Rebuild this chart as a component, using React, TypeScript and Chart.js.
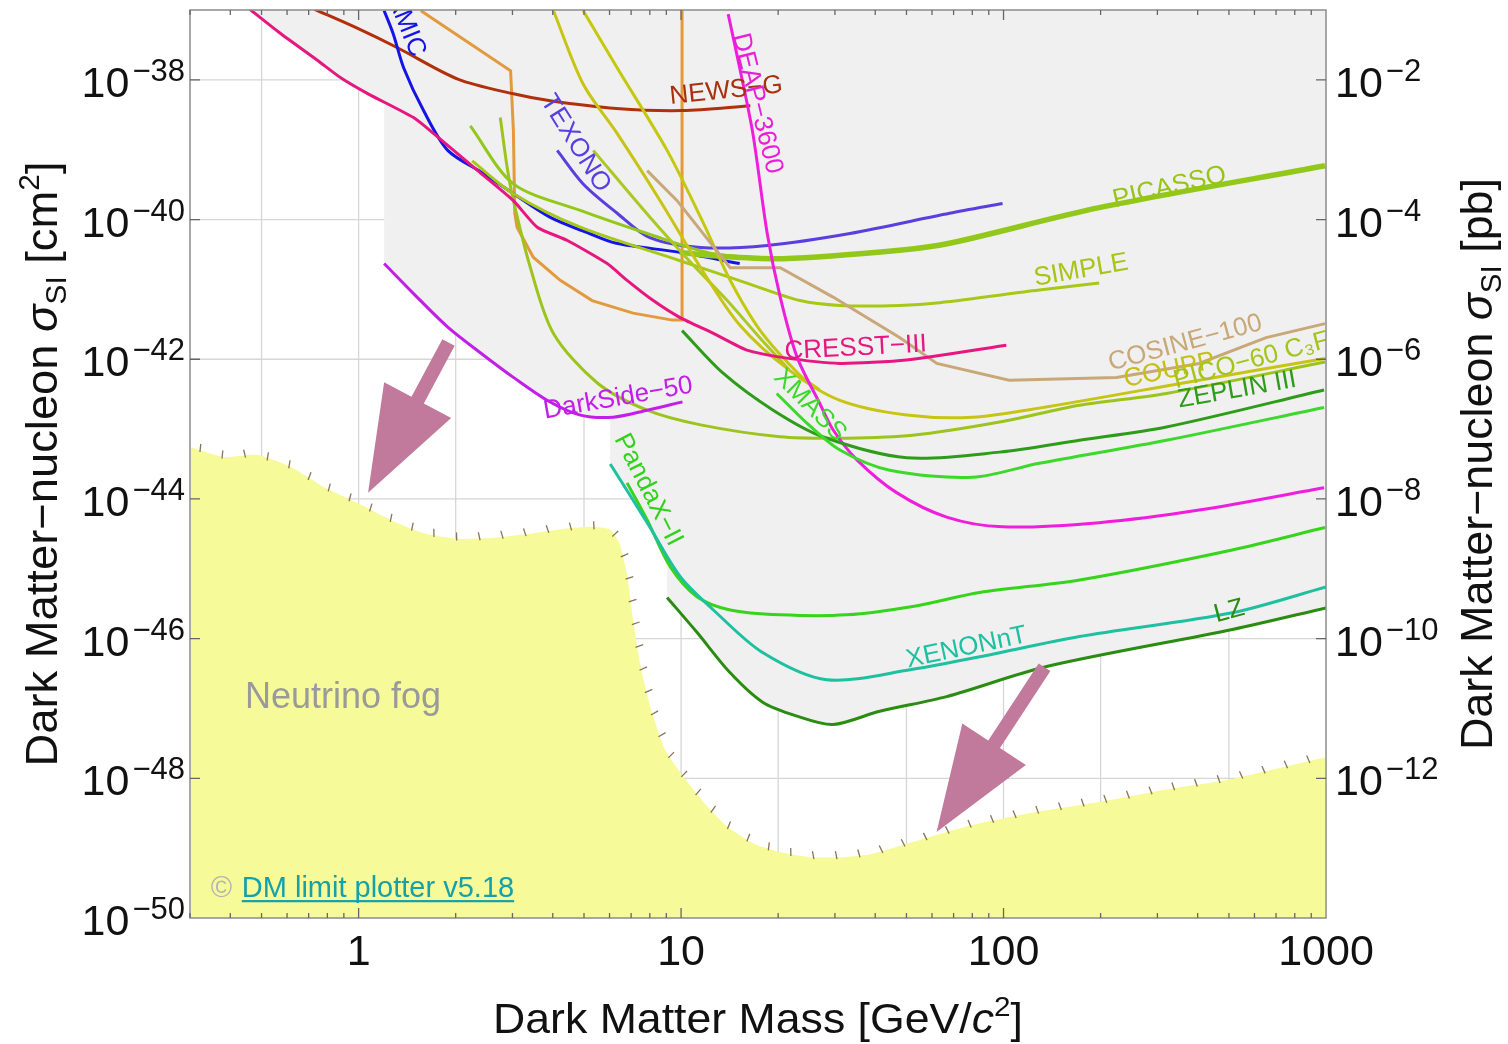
import React, { useEffect, useRef } from "react";
import { Chart, registerables } from "chart.js";

Chart.register(...registerables);

// Each point: [dark-matter mass in GeV, log10 of sigma_SI in cm^2]
type Pt = [number, number];

const cresst3: Pt[] = [[0.46,-36.99],[0.57,-37.33],[0.75,-37.73],[0.88,-37.97],[1.07,-38.2],[1.48,-38.54],[1.71,-38.77],[2.34,-39.3],[3.02,-39.73],[3.58,-40.11],[4.44,-40.3],[5.9,-40.63],[6.8,-40.87],[8.2,-41.16],[9.9,-41.4],[12.6,-41.63],[16,-41.87],[20.3,-41.97],[31,-42.06],[50,-42.01],[102,-41.8]];
const damic: Pt[] = [[1.2,-37.01],[1.28,-37.34],[1.38,-37.83],[1.59,-38.44],[1.89,-39.01],[2.44,-39.34],[3.02,-39.63],[3.93,-39.97],[5.2,-40.2],[6.3,-40.34],[9.9,-40.47],[15.2,-40.63]];
const newsG: Pt[] = [[0.73,-36.99],[0.99,-37.26],[1.32,-37.54],[2.03,-37.99],[3.02,-38.2],[3.93,-38.3],[6.3,-38.41],[10.1,-38.44],[16.4,-38.37]];
const orangeLimit: Pt[] = [[1.56,-37.01],[2.96,-37.87],[3.02,-38.73],[3.05,-39.91],[3.1,-40.11],[3.48,-40.54],[4.22,-40.87],[5.3,-41.16],[7.1,-41.34],[9.4,-41.44],[10.07,-41.44],[10.07,-37.0]];
const deap3600: Pt[] = [[14,-37.06],[15.2,-37.83],[16.7,-38.77],[18.5,-40.2],[20.3,-41.11],[22.9,-41.97],[26.9,-42.63],[29.6,-43.01],[35.1,-43.44],[46.6,-43.91],[66.6,-44.26],[99.3,-44.4],[198,-44.34],[404,-44.16],[986,-43.84]];
const texono: Pt[] = [[4.13,-39.01],[4.97,-39.49],[6.34,-39.91],[8.0,-40.26],[11.5,-40.4],[18.5,-40.37],[33.4,-40.2],[68,-39.91],[99.3,-39.77]];
const picassoLow: Pt[] = [[2.22,-38.66],[3.02,-39.49],[4.87,-39.87],[7.85,-40.2],[12.6,-40.49],[20.7,-40.56]];
const picasso: Pt[] = [[9.9,-40.47],[12.6,-40.52],[20.7,-40.56],[47.6,-40.44],[68,-40.34],[198,-39.83],[993,-39.23]];
const simple: Pt[] = [[2.25,-39.16],[3.02,-39.63],[4.87,-40.11],[9.93,-40.59],[16,-40.91],[23.4,-41.16],[31.1,-41.23],[47.6,-41.23],[63.4,-41.19],[129,-41.01],[198,-40.91]];
const pico60: Pt[] = [[2.75,-38.54],[2.89,-39.26],[3.02,-39.73],[3.41,-40.69],[4.02,-41.63],[5.5,-42.34],[7.85,-42.73],[11.5,-42.94],[20.3,-43.11],[32.6,-43.13],[52.3,-43.09],[97.2,-42.9],[172,-42.66],[320,-42.49],[993,-42.04]];
const coupp: Pt[] = [[4.02,-37.01],[4.97,-38.06],[6.34,-38.77],[8.61,-39.73],[11.5,-40.69],[15.2,-41.51],[21.7,-42.16],[31.1,-42.59],[50.1,-42.8],[80.2,-42.83],[129,-42.7],[404,-42.3],[993,-41.99]];
const yellowB: Pt[] = [[4.97,-37.01],[6.34,-37.83],[9.05,-39.01],[11.5,-39.97],[14.2,-40.87],[17.6,-41.59],[23.4,-42.23],[26.9,-42.44]];
const yellowGreen: Pt[] = [[5.34,-39.01],[8.02,-39.97],[10.7,-40.61],[13.9,-41.16],[17.6,-41.7],[21.7,-42.16]];
const cosine100: Pt[] = [[7.85,-39.3],[9.72,-39.73],[14.2,-40.69],[20.3,-40.69],[29.6,-41.11],[47.6,-41.69],[62.1,-42.06],[104,-42.3],[224,-42.26],[404,-42.06],[652,-41.69],[993,-41.49]];
const darkSide50: Pt[] = [[1.2,-40.63],[1.48,-41.06],[1.89,-41.54],[2.39,-41.91],[3.02,-42.26],[3.85,-42.59],[4.87,-42.8],[6.16,-42.83],[7.85,-42.73],[10.1,-42.61]];
const zeplin3: Pt[] = [[10.07,-41.59],[13.5,-42.2],[19.3,-42.73],[27.5,-43.11],[50.1,-43.41],[97.2,-43.33],[172,-43.16],[320,-42.97],[986,-42.44]];
const xmass: Pt[] = [[19.8,-42.49],[24.5,-42.91],[31.1,-43.3],[44.4,-43.59],[80.2,-43.69],[129,-43.49],[320,-43.16],[986,-42.69]];
const pandax2: Pt[] = [[6.8,-43.77],[7.85,-44.3],[9.25,-44.97],[11.2,-45.4],[14.2,-45.59],[20.3,-45.66],[32.6,-45.66],[52.3,-45.54],[84.3,-45.34],[172,-45.16],[512,-44.73],[993,-44.41]];
const xenonnt: Pt[] = [[6.03,-43.5],[7.85,-44.34],[9.93,-45.11],[12.6,-45.59],[17.9,-46.2],[28.3,-46.59],[52.3,-46.44],[84.3,-46.26],[172,-45.97],[512,-45.63],[1000,-45.26]];
const lz: Pt[] = [[9.05,-45.41],[11.2,-45.91],[14.2,-46.49],[17.9,-46.91],[22.9,-47.11],[29.6,-47.23],[41.3,-47.04],[66.6,-46.83],[136,-46.4],[512,-45.87],[1000,-45.56]];

// lower edge of the combined excluded (grey) region
const excludedEdge: Pt[] = [[0.46,-36.99],[0.57,-37.33],[0.75,-37.73],[0.88,-37.97],[1.07,-38.2],[1.2,-38.33],[1.2,-40.63],[1.48,-41.06],[1.89,-41.54],[2.39,-41.91],[3.02,-42.26],[3.85,-42.59],[4.87,-42.8],[6.03,-42.83],[6.03,-43.5],[7.85,-44.34],[9.05,-44.95],[9.05,-45.41],[11.2,-45.91],[14.2,-46.49],[17.9,-46.91],[22.9,-47.11],[29.6,-47.23],[41.3,-47.04],[66.6,-46.83],[136,-46.4],[512,-45.87],[1000,-45.56]];

// upper edge of the neutrino fog
const neutrinoFog: Pt[] = [[0.302,-43.26],[0.382,-43.4],[0.486,-43.37],[0.615,-43.54],[0.779,-43.83],[0.993,-44.06],[1.256,-44.3],[1.589,-44.49],[2.03,-44.57],[2.56,-44.56],[3.24,-44.51],[4.13,-44.44],[5.23,-44.4],[6.03,-44.44],[6.47,-44.66],[6.8,-45.09],[7.1,-45.73],[7.47,-46.37],[8.02,-46.97],[8.92,-47.59],[10.3,-48.01],[11.9,-48.37],[13.9,-48.69],[16.9,-48.94],[20.4,-49.06],[25.1,-49.13],[31.1,-49.13],[38.5,-49.09],[47.6,-48.97],[76.7,-48.69],[123,-48.49],[198,-48.34],[320,-48.16],[512,-48.01],[993,-47.7]];

// axes
const X_MIN = 0.3, X_MAX = 1000;
const Y_MIN_EXP = -50, Y_MAX_EXP = -37;
const PB_MIN_EXP = -14, PB_MAX_EXP = -1;
const X_GRID = [0.5, 1, 2, 5, 10, 20, 50, 100, 200, 500];
const X_MAJOR = [1, 10, 100];
const X_MANTISSAS = [1, 2, 3, 4, 5, 6, 7, 8, 9];
const X_DECADES = [0.1, 1, 10, 100];
const X_TICK_LABELS = [1, 10, 100, 1000];
const Y_GRID_EXP = [-38, -40, -42, -44, -46, -48];
const Y_LEFT_LABEL_EXP = [-38, -40, -42, -44, -46, -48, -50];
const Y_RIGHT_LABEL_EXP = [-2, -4, -6, -8, -10, -12];

const FONT = '"Liberation Sans", Arial, Helvetica, sans-serif';

type Curve = { name: string; pts: Pt[]; color: string; width: number; tension: number };

const CURVES: Curve[] = [
  { name: "LZ", pts: lz, color: "#2a8c10", width: 3, tension: 0.3 },
  { name: "XENONnT", pts: xenonnt, color: "#1ec0a0", width: 3, tension: 0.3 },
  { name: "PandaX-II", pts: pandax2, color: "#36d41a", width: 3, tension: 0.3 },
  { name: "XMASS", pts: xmass, color: "#3cd82a", width: 3, tension: 0.3 },
  { name: "ZEPLIN III", pts: zeplin3, color: "#2e9c1a", width: 3, tension: 0.3 },
  { name: "DEAP-3600", pts: deap3600, color: "#ee1edc", width: 3, tension: 0.3 },
  { name: "DarkSide-50", pts: darkSide50, color: "#c21ee8", width: 3, tension: 0.3 },
  { name: "CRESST-III", pts: cresst3, color: "#e6177f", width: 3, tension: 0.2 },
  { name: "COSINE-100", pts: cosine100, color: "#c8a878", width: 3, tension: 0 },
  { name: "COUPP", pts: coupp, color: "#c8c414", width: 3, tension: 0.3 },
  { name: "PICO-60", pts: pico60, color: "#9cc41c", width: 3, tension: 0.3 },
  { name: "yellowB", pts: yellowB, color: "#c4c80e", width: 3, tension: 0.3 },
  { name: "yellowGreen", pts: yellowGreen, color: "#acc824", width: 3, tension: 0.3 },
  { name: "SIMPLE", pts: simple, color: "#a8c818", width: 3, tension: 0.3 },
  { name: "PICASSO", pts: picasso, color: "#92c81a", width: 5.5, tension: 0.3 },
  { name: "PICASSO low", pts: picassoLow, color: "#92c81a", width: 3, tension: 0.3 },
  { name: "TEXONO", pts: texono, color: "#5a3ee0", width: 3, tension: 0.3 },
  { name: "DAMIC", pts: damic, color: "#1414e6", width: 3, tension: 0.3 },
  { name: "NEWS-G", pts: newsG, color: "#b0300c", width: 3, tension: 0.3 },
  { name: "orange", pts: orangeLimit, color: "#e39a3c", width: 3, tension: 0 },
];

type Lbl = { text: string; at: Pt; angle: number; color: string };
const CURVE_LABELS: Lbl[] = [
  { text: "DAMIC", at: [1.37, -37.1], angle: 68, color: "#1414e6" },
  { text: "TEXONO", at: [4.7, -38.91], angle: 58, color: "#5a3ee0" },
  { text: "NEWS\u2212G", at: [13.8, -38.16], angle: -6, color: "#a8300e" },
  { text: "DEAP\u22123600", at: [17.2, -38.34], angle: 76, color: "#e81ed8" },
  { text: "PICASSO", at: [327, -39.54], angle: -13, color: "#98c418" },
  { text: "SIMPLE", at: [174, -40.73], angle: -10, color: "#a8c418" },
  { text: "CRESST\u2212III", at: [34.8, -41.84], angle: -3, color: "#e6177f" },
  { text: "COSINE\u2212100", at: [366, -41.77], angle: -15, color: "#c8a878" },
  { text: "COUPP", at: [327, -42.16], angle: -12, color: "#c4c014" },
  { text: "PICO\u221260 C\u2083F\u2088", at: [610, -42.0], angle: -15, color: "#a4c41c" },
  { text: "ZEPLIN III", at: [530, -42.44], angle: -10, color: "#2e9c1a" },
  { text: "XMASS", at: [25.1, -42.66], angle: 45, color: "#3cd82a" },
  { text: "DarkSide\u221250", at: [6.38, -42.56], angle: -10, color: "#c21ee8" },
  { text: "PandaX\u2212II", at: [7.91, -43.87], angle: 63, color: "#32d21c" },
  { text: "XENONnT", at: [76.8, -46.13], angle: -12, color: "#1ec0a0" },
  { text: "LZ", at: [501, -45.61], angle: -15, color: "#2a8c10" },
];

const ARROWS: { from: Pt; to: Pt }[] = [
  { from: [1.9, -41.76], to: [1.07, -43.91] },
  { from: [134, -46.41], to: [62, -48.77] },
];

const FOG_TEXT_AT: Pt = [0.444, -46.99];
const CREDIT_AT: Pt = [0.348, -49.7];

const toXY = (pts: Pt[]) => pts.map(([m, l]) => ({ x: m, y: Math.pow(10, l) }));

type Seg = { t: string; s: number; i?: boolean; dy?: number };
function segFont(s: Seg) {
  return `${s.i ? "italic " : ""}${s.s}px ${FONT}`;
}
function drawRich(ctx: CanvasRenderingContext2D, segs: Seg[], cx: number, cy: number, angle: number, target: number) {
  let total = 0;
  const ws = segs.map((s) => {
    ctx.font = segFont(s);
    const w = ctx.measureText(s.t).width;
    total += w;
    return w;
  });
  const sx = target / total;
  ctx.save();
  ctx.translate(cx, cy);
  ctx.rotate(angle);
  ctx.scale(sx, 1);
  ctx.textAlign = "left";
  ctx.textBaseline = "alphabetic";
  let x = -total / 2;
  segs.forEach((s, i) => {
    ctx.font = segFont(s);
    ctx.fillText(s.t, x, s.dy || 0);
    x += ws[i];
  });
  ctx.restore();
}

function drawPow(ctx: CanvasRenderingContext2D, x: number, y: number, exp: number, align: "left" | "right") {
  const base = "10";
  const sup = (exp < 0 ? "\u2212" : "") + Math.abs(exp);
  ctx.font = `43px ${FONT}`;
  const wb = ctx.measureText(base).width;
  ctx.font = `31px ${FONT}`;
  const wsup = ctx.measureText(sup).width;
  const total = wb + 3 + wsup;
  const x0 = align === "right" ? x - total : x;
  ctx.textAlign = "left";
  ctx.textBaseline = "alphabetic";
  ctx.font = `43px ${FONT}`;
  ctx.fillText(base, x0, y + 17);
  ctx.font = `31px ${FONT}`;
  ctx.fillText(sup, x0 + wb + 3, y + 1);
}

const decorPlugin = {
  id: "decor",
  beforeDatasetsDraw(chart: any) {
    const { ctx, chartArea: a, scales } = chart;
    const xs = scales.x, ys = scales.y;
    ctx.save();
    ctx.strokeStyle = "#d6d6d6";
    ctx.lineWidth = 1.3;
    X_GRID.forEach((v) => {
      const px = xs.getPixelForValue(v);
      ctx.beginPath();
      ctx.moveTo(px, a.top);
      ctx.lineTo(px, a.bottom);
      ctx.stroke();
    });
    Y_GRID_EXP.forEach((e) => {
      const py = ys.getPixelForValue(Math.pow(10, e));
      ctx.beginPath();
      ctx.moveTo(a.left, py);
      ctx.lineTo(a.right, py);
      ctx.stroke();
    });
    ctx.restore();
  },
  afterDatasetsDraw(chart: any) {
    const { ctx, chartArea: a, scales } = chart;
    const xs = scales.x, ys = scales.y, y2 = scales.y2;
    const px = (m: number) => xs.getPixelForValue(m);
    const py = (l: number) => ys.getPixelForValue(Math.pow(10, l));

    ctx.save();
    ctx.beginPath();
    ctx.rect(a.left, a.top, a.right - a.left, a.bottom - a.top);
    ctx.clip();

    // hatch marks along the neutrino fog boundary
    const fogMeta = chart.getDatasetMeta(chart.data.datasets.findIndex((d: any) => d.label === "fog"));
    const fp = fogMeta.data.map((p: any) => ({ x: p.x, y: p.y }));
    ctx.strokeStyle = "#8a7456";
    ctx.lineWidth = 1.3;
    const step = 23;
    let next = 10;
    let acc = 0;
    for (let i = 0; i < fp.length - 1; i++) {
      const dx = fp[i + 1].x - fp[i].x, dy = fp[i + 1].y - fp[i].y;
      const len = Math.hypot(dx, dy);
      if (len === 0) continue;
      const tx = dx / len, ty = dy / len;
      const nx = ty, ny = -tx;
      while (next <= acc + len) {
        const d = next - acc;
        const cx = fp[i].x + tx * d, cy = fp[i].y + ty * d;
        ctx.beginPath();
        ctx.moveTo(cx - nx * 2, cy - ny * 2);
        ctx.lineTo(cx + nx * 6 - tx * 1.5, cy + ny * 6 - ty * 1.5);
        ctx.stroke();
        next += step;
      }
      acc += len;
    }

    // curve labels
    ctx.textAlign = "center";
    ctx.textBaseline = "middle";
    ctx.font = `26px ${FONT}`;
    CURVE_LABELS.forEach((l) => {
      ctx.save();
      ctx.translate(px(l.at[0]), py(l.at[1]));
      ctx.rotate((l.angle * Math.PI) / 180);
      ctx.fillStyle = l.color;
      ctx.fillText(l.text, 0, 0);
      ctx.restore();
    });

    // arrows
    ctx.fillStyle = "#c27a9c";
    ARROWS.forEach((ar) => {
      const x0 = px(ar.from[0]), y0 = py(ar.from[1]);
      const x1 = px(ar.to[0]), y1 = py(ar.to[1]);
      const dx = x1 - x0, dy = y1 - y0;
      const len = Math.hypot(dx, dy);
      const ux = dx / len, uy = dy / len;
      const nx = -uy, ny = ux;
      const hl = 105, hw = 38, sw = 7;
      const bx = x1 - ux * hl, by = y1 - uy * hl;
      ctx.beginPath();
      ctx.moveTo(x0 + nx * sw, y0 + ny * sw);
      ctx.lineTo(bx + nx * sw, by + ny * sw);
      ctx.lineTo(bx + nx * hw, by + ny * hw);
      ctx.lineTo(x1, y1);
      ctx.lineTo(bx - nx * hw, by - ny * hw);
      ctx.lineTo(bx - nx * sw, by - ny * sw);
      ctx.lineTo(x0 - nx * sw, y0 - ny * sw);
      ctx.closePath();
      ctx.fill();
    });

    // Neutrino fog text
    ctx.textAlign = "left";
    ctx.textBaseline = "alphabetic";
    ctx.fillStyle = "#9a9a9a";
    ctx.font = `36px ${FONT}`;
    ctx.fillText("Neutrino fog", px(FOG_TEXT_AT[0]), py(FOG_TEXT_AT[1]));

    // credit
    const cx0 = px(CREDIT_AT[0]), cy0 = py(CREDIT_AT[1]);
    ctx.font = `29px ${FONT}`;
    ctx.fillStyle = "#b4b4b4";
    ctx.fillText("\u00a9", cx0, cy0);
    const cw = 31;
    ctx.fillStyle = "#17a0a8";
    const credit = "DM limit plotter v5.18";
    ctx.fillText(credit, cx0 + cw, cy0);
    const tw = ctx.measureText(credit).width;
    ctx.fillRect(cx0 + cw, cy0 + 3, tw, 2.2);
    ctx.restore();

    // frame
    ctx.save();
    ctx.strokeStyle = "#8c8c8c";
    ctx.lineWidth = 1.5;
    ctx.strokeRect(a.left, a.top, a.right - a.left, a.bottom - a.top);

    // x ticks (bottom and top)
    ctx.strokeStyle = "#666";
    ctx.lineWidth = 1.3;
    X_DECADES.forEach((d) => {
      X_MANTISSAS.forEach((m) => {
        const v = m * d;
        if (v < X_MIN * 0.999 || v > X_MAX * 1.001) return;
        const x = px(v);
        const major = X_MAJOR.some((mv) => Math.abs(mv - v) < 1e-9);
        const L = major ? 10 : 5;
        ctx.beginPath();
        ctx.moveTo(x, a.bottom);
        ctx.lineTo(x, a.bottom - L);
        ctx.moveTo(x, a.top);
        ctx.lineTo(x, a.top + L);
        ctx.stroke();
      });
    });
    Y_GRID_EXP.forEach((e) => {
      const y = py(e);
      ctx.beginPath();
      ctx.moveTo(a.left, y);
      ctx.lineTo(a.left + 10, y);
      ctx.moveTo(a.right, y);
      ctx.lineTo(a.right - 10, y);
      ctx.stroke();
    });

    // tick labels
    ctx.fillStyle = "#111";
    ctx.textAlign = "center";
    ctx.textBaseline = "alphabetic";
    ctx.font = `43px ${FONT}`;
    X_TICK_LABELS.forEach((v) => {
      ctx.fillText(String(v), px(v), a.bottom + 47);
    });
    Y_LEFT_LABEL_EXP.forEach((e) => drawPow(ctx, a.left - 5, py(e), e, "right"));
    Y_RIGHT_LABEL_EXP.forEach((e) => drawPow(ctx, a.right + 9, y2.getPixelForValue(Math.pow(10, e)), e, "left"));

    // axis titles
    ctx.fillStyle = "#111";
    drawRich(
      ctx,
      [
        { t: "Dark Matter Mass [GeV/", s: 42 },
        { t: "c", s: 42, i: true },
        { t: "2", s: 28, dy: -17 },
        { t: "]", s: 42 },
      ],
      (a.left + a.right) / 2 + 0,
      a.bottom + 115,
      0,
      530
    );
    drawRich(
      ctx,
      [
        { t: "Dark Matter\u2212nucleon ", s: 44 },
        { t: "\u03c3", s: 44, i: true },
        { t: "SI", s: 29, dy: 9 },
        { t: " [cm", s: 44 },
        { t: "2", s: 29, dy: -18 },
        { t: "]", s: 44 },
      ],
      57,
      (a.top + a.bottom) / 2,
      -Math.PI / 2,
      605
    );
    drawRich(
      ctx,
      [
        { t: "Dark Matter\u2212nucleon ", s: 44 },
        { t: "\u03c3", s: 44, i: true },
        { t: "SI", s: 29, dy: 9 },
        { t: " [pb]", s: 44 },
      ],
      1492,
      (a.top + a.bottom) / 2,
      -Math.PI / 2,
      572
    );
    ctx.restore();
  },
};

export default function App() {
  const ref = useRef<HTMLCanvasElement>(null);
  useEffect(() => {
    const canvas = ref.current;
    if (!canvas) return;
    const curveSets = CURVES.map((c) => ({
      label: c.name,
      data: toXY(c.pts),
      borderColor: c.color,
      backgroundColor: c.color,
      borderWidth: c.width,
      pointRadius: 0,
      tension: c.tension,
      fill: false,
      order: 0,
    }));
    const datasets: any[] = [
      ...curveSets,
      {
        label: "fog",
        data: toXY(neutrinoFog),
        borderColor: "rgba(0,0,0,0)",
        backgroundColor: "#f6fa98",
        borderWidth: 0,
        pointRadius: 0,
        tension: 0.2,
        fill: "start",
        order: 50,
      },
      {
        label: "excluded",
        data: toXY(excludedEdge),
        borderColor: "rgba(0,0,0,0)",
        backgroundColor: "#f0f0f0",
        borderWidth: 0,
        pointRadius: 0,
        tension: 0,
        fill: "end",
        order: 60,
      },
    ];
    const chart = new Chart(canvas, {
      type: "line",
      data: { datasets },
      options: {
        responsive: false,
        animation: false,
        devicePixelRatio: 1,
        events: [],
        layout: { padding: { left: 190, right: 182, top: 10, bottom: 126 } },
        plugins: { legend: { display: false }, tooltip: { enabled: false } },
        scales: {
          x: { type: "logarithmic", min: X_MIN, max: X_MAX, display: false },
          y: { type: "logarithmic", min: Math.pow(10, Y_MIN_EXP), max: Math.pow(10, Y_MAX_EXP), display: false },
          y2: { type: "logarithmic", position: "right", min: Math.pow(10, PB_MIN_EXP), max: Math.pow(10, PB_MAX_EXP), display: false },
        },
      } as any,
      plugins: [decorPlugin],
    });
    return () => chart.destroy();
  }, []);
  return (
    <canvas
      ref={ref}
      width={1508}
      height={1044}
      style={{ position: "absolute", left: 0, top: 0, width: 1508, height: 1044, display: "block" }}
    />
  );
}
